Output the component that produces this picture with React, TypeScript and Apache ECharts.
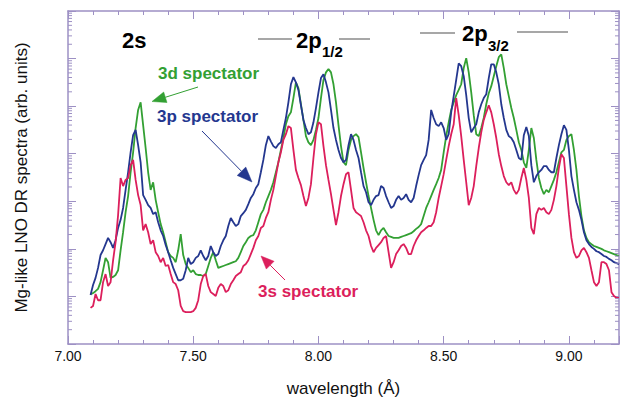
import { useEffect, useRef } from "react";
import * as echarts from "echarts";

// log10 of intensity (arb. units), sampled every 0.01 Å from 7.09 Å to 9.20 Å
const spectator3dLog = [
  1.05, 1.07, 1.11, 1.16, 1.30, 1.55, 1.81, 1.72, 1.39, 1.41,
  1.45, 1.55, 1.97, 2.35, 2.77, 3.11, 3.61, 4.03, 4.54, 4.92,
  5.08, 4.60, 4.12, 3.61, 3.24, 3.40, 3.03, 2.77, 2.52, 2.35,
  2.14, 1.93, 1.85, 1.81, 1.72, 1.97, 2.31, 1.87, 1.68, 1.60,
  1.51, 1.55, 1.47, 1.45, 1.45, 1.43, 1.47, 1.64, 1.81, 1.93,
  1.76, 1.60, 1.62, 1.64, 1.66, 1.68, 1.70, 1.72, 1.74, 1.81,
  1.93, 2.06, 2.14, 2.23, 2.27, 2.29, 2.39, 2.56, 2.73, 2.82,
  2.98, 3.11, 3.24, 3.40, 3.61, 3.82, 4.08, 4.33, 4.62, 4.79,
  4.87, 5.17, 5.50, 5.38, 5.04, 4.71, 4.37, 4.24, 4.18, 4.29,
  4.50, 4.75, 5.17, 5.55, 5.71, 5.78, 5.71, 5.46, 5.08, 4.60,
  4.16, 3.82, 3.76, 4.08, 4.29, 4.37, 4.41, 4.35, 4.03, 3.70,
  3.40, 3.11, 2.86, 2.61, 2.39, 2.29, 2.39, 2.44, 2.35, 2.27,
  2.25, 2.23, 2.23, 2.23, 2.25, 2.27, 2.29, 2.31, 2.33, 2.37,
  2.42, 2.46, 2.52, 2.69, 2.86, 2.98, 3.11, 3.24, 3.36, 3.49,
  3.66, 4.03, 4.37, 4.66, 4.92, 5.08, 5.23, 5.34, 5.46, 5.80,
  6.01, 5.71, 5.29, 4.81, 4.41, 4.37, 4.54, 4.75, 5.04, 5.27,
  5.42, 5.63, 5.84, 6.03, 6.09, 5.80, 5.46, 5.21, 4.96, 4.75,
  4.50, 4.24, 4.08, 3.82, 3.70, 4.08, 4.54, 4.33, 3.87, 3.49,
  3.28, 3.15, 3.24, 3.19, 3.32, 3.45, 3.61, 3.82, 4.03, 4.08,
  4.29, 4.37, 4.41, 4.08, 3.66, 3.11, 2.69, 2.39, 2.23, 2.14,
  2.10, 2.06, 2.04, 2.02, 2.00, 1.97, 1.95, 1.93, 1.91, 1.89,
  1.87, 1.85,
];

const spectator3pLog = [
  1.03, 1.24, 1.39, 1.60, 1.87, 1.97, 2.10, 2.23, 2.14, 2.02,
  2.18, 2.44, 2.61, 2.86, 3.24, 3.61, 4.03, 4.39, 4.50, 4.18,
  3.82, 3.13, 3.03, 2.92, 2.86, 2.73, 2.77, 2.56, 2.39, 2.27,
  2.08, 1.93, 1.76, 1.60, 1.47, 1.34, 1.34, 1.37, 1.55, 1.81,
  1.68, 1.72, 1.81, 1.85, 1.97, 1.85, 1.76, 1.85, 2.06, 1.93,
  1.85, 1.89, 2.06, 2.18, 2.27, 2.48, 2.65, 2.56, 2.48, 2.52,
  2.69, 2.75, 2.82, 2.94, 3.07, 3.15, 3.28, 3.36, 3.61, 3.87,
  4.18, 4.37, 4.26, 4.16, 4.12, 4.20, 4.24, 4.50, 4.75, 5.08,
  5.46, 5.61, 5.50, 5.34, 5.02, 4.71, 4.54, 4.41, 4.45, 4.66,
  4.96, 5.29, 5.59, 5.67, 5.50, 5.29, 4.92, 4.54, 4.29, 4.08,
  3.91, 3.82, 3.87, 4.18, 4.41, 4.29, 4.08, 3.91, 3.61, 3.32,
  3.19, 2.98, 2.92, 3.03, 3.11, 3.13, 3.32, 3.28, 3.11, 2.98,
  2.86, 2.90, 3.03, 3.11, 3.03, 3.07, 3.15, 3.03, 2.98, 3.07,
  3.32, 3.55, 3.76, 3.87, 3.97, 4.29, 4.92, 4.75, 4.62, 4.58,
  4.66, 4.54, 4.29, 4.41, 4.87, 5.21, 5.55, 5.90, 5.84, 5.63,
  5.23, 4.75, 4.45, 4.54, 4.62, 4.87, 5.04, 5.17, 5.25, 5.59,
  5.88, 5.88, 5.71, 5.46, 5.04, 4.75, 4.50, 4.37, 4.33, 4.24,
  4.08, 3.91, 3.87, 4.39, 4.56, 4.37, 3.76, 3.40, 3.53, 3.61,
  3.66, 3.74, 3.74, 3.66, 3.61, 3.61, 3.91, 4.18, 4.41, 4.60,
  4.50, 4.08, 3.53, 3.24, 2.98, 2.82, 2.61, 2.35, 2.18, 2.10,
  2.04, 2.00, 1.95, 1.93, 1.89, 1.85, 1.83, 1.79, 1.76, 1.72,
  1.70, 1.68,
];

const spectator3sLog = [
  0.76, 0.80, 1.05, 0.92, 0.92, 1.30, 1.47, 1.22, 1.30, 1.76,
  2.14, 2.71, 3.49, 3.32, 3.45, 3.49, 3.76, 3.87, 3.45, 3.13,
  2.92, 2.39, 2.52, 2.35, 2.10, 2.18, 1.93, 1.85, 1.72, 1.81,
  1.64, 1.66, 1.47, 1.30, 1.26, 1.13, 0.80, 0.69, 0.67, 0.67,
  0.67, 0.69, 0.76, 0.92, 1.26, 1.43, 1.47, 1.22, 1.09, 1.05,
  1.01, 1.18, 1.26, 1.22, 1.09, 1.13, 1.26, 1.34, 1.43, 1.47,
  1.51, 1.64, 1.68, 1.76, 1.89, 2.02, 2.18, 2.27, 2.44, 2.48,
  2.65, 2.77, 3.03, 3.24, 3.53, 3.82, 4.03, 4.29, 4.41, 4.58,
  4.54, 4.08, 3.66, 3.49, 3.34, 3.11, 2.90, 3.07, 3.36, 3.91,
  4.41, 4.66, 4.62, 4.16, 3.76, 3.45, 3.15, 2.82, 2.50, 2.77,
  3.11, 3.36, 3.57, 3.61, 3.24, 2.86, 2.77, 2.73, 2.69, 2.56,
  2.39, 2.27, 2.06, 1.93, 2.02, 2.08, 2.14, 2.23, 2.27, 1.93,
  1.60, 1.72, 1.89, 1.97, 2.06, 2.10, 2.02, 1.89, 1.89, 2.06,
  2.18, 2.27, 2.35, 2.39, 2.44, 2.48, 2.48, 2.56, 2.77, 3.07,
  3.32, 3.57, 3.87, 4.16, 4.41, 4.62, 5.17, 4.81, 4.37, 3.87,
  3.40, 2.92, 3.07, 3.32, 3.74, 4.12, 4.45, 4.71, 4.87, 5.02,
  4.87, 4.62, 4.33, 3.99, 3.74, 3.53, 3.40, 3.34, 3.40, 3.24,
  3.15, 3.24, 3.49, 3.70, 3.45, 3.07, 2.44, 2.31, 2.73, 2.86,
  2.82, 2.86, 2.77, 2.73, 2.82, 3.03, 3.32, 3.70, 3.99, 3.91,
  3.32, 2.73, 2.23, 1.93, 1.81, 1.85, 1.97, 2.02, 1.93, 1.81,
  1.55, 1.30, 1.22, 1.30, 1.72, 1.72, 1.68, 1.55, 1.09, 1.01,
  0.97, 0.97,
];

const SAMPLE_START = 7.09;
const SAMPLE_STEP = 0.01;
const wavelengths = spectator3dLog.map((_, i) => +(SAMPLE_START + i * SAMPLE_STEP).toFixed(2));

const X_MIN = 7.0;
const X_MAX = 9.2;
const X_INTERVAL = 0.5;
const Y_MIN = 1;
const Y_MAX = 1e7;
const decades = [0, 1, 2, 3, 4, 5, 6];
const minorMultipliers = [2, 3, 4, 5, 6, 7, 8, 9];
const yMinorTicks = decades.flatMap((d) => minorMultipliers.map((m) => m * Math.pow(10, d)));

const GREEN = "#33a033";
const BLUE = "#24378f";
const RED = "#dc1f5c";
const AXIS = "#9d90c4";
const GREY = "#8a8a8a";
const FONT = '"Liberation Sans", Arial, Helvetica, sans-serif';

const toSeries = (logs: number[]) => logs.map((e, i) => [wavelengths[i], Math.pow(10, e)]);

function arrow(tail: number[], tip: number[], color: string, len: number, half: number) {
  const dx = tip[0] - tail[0];
  const dy = tip[1] - tail[1];
  const L = Math.hypot(dx, dy);
  const ux = dx / L;
  const uy = dy / L;
  const bx = tip[0] - ux * len;
  const by = tip[1] - uy * len;
  const px = -uy;
  const py = ux;
  return [
    { type: "line", z: 10, shape: { x1: tail[0], y1: tail[1], x2: bx, y2: by }, style: { stroke: color, lineWidth: 1 } },
    {
      type: "polygon",
      z: 10,
      shape: { points: [[tip[0], tip[1]], [bx + px * half, by + py * half], [bx - px * half, by - py * half]] },
      style: { fill: color, stroke: color, lineWidth: 0.5 },
    },
  ];
}

function txt(text: string, x: number, y: number, color: string, size: number, bold = true) {
  return {
    type: "text",
    x,
    y,
    z: 10,
    style: {
      text,
      fill: color,
      font: `${bold ? "bold " : ""}${size}px ${FONT}`,
      align: "left",
      textAlign: "left",
      verticalAlign: "middle",
      textVerticalAlign: "middle",
    },
  };
}

function hline(x1: number, x2: number, y: number) {
  return { type: "line", z: 10, shape: { x1, y1: y, x2, y2: y }, style: { stroke: GREY, lineWidth: 1.5 } };
}

export default function App() {
  const ref = useRef<HTMLDivElement>(null);
  useEffect(() => {
    if (!ref.current) return;
    const chart = echarts.init(ref.current, undefined, { renderer: "svg" });
    const axisLine = { show: true, lineStyle: { color: AXIS, width: 1.5 } };
    const xCommon = {
      type: "value",
      min: X_MIN,
      max: X_MAX,
      interval: X_INTERVAL,
      axisLine,
      axisTick: { show: true, inside: true, length: 8, lineStyle: { color: AXIS, width: 1 } },
      minorTick: { show: true, splitNumber: 5, length: 4, lineStyle: { color: AXIS, width: 1 } },
      splitLine: { show: false },
      minorSplitLine: { show: false },
    };
    const yCommon = {
      type: "log",
      logBase: 10,
      min: Y_MIN,
      max: Y_MAX,
      splitNumber: 7,
      axisLine,
      axisTick: { show: true, inside: true, length: 8, lineStyle: { color: AXIS, width: 1 } },
      axisLabel: { show: false },
      splitLine: { show: false },
    };
    const option = {
      animation: false,
      backgroundColor: "#ffffff",
      grid: { left: 68, right: 1, top: 11, bottom: 59, containLabel: false },
      xAxis: [
        {
          ...xCommon,
          position: "bottom",
          name: "wavelength (Å)",
          nameLocation: "middle",
          nameGap: 36,
          nameTextStyle: { fontSize: 17, color: "#111", fontFamily: FONT },
          axisLabel: {
            fontSize: 14,
            color: "#111",
            margin: 5,
            fontFamily: FONT,
            showMaxLabel: false,
            formatter: (v: number) => v.toFixed(2),
          },
        },
        { ...xCommon, position: "top", axisLabel: { show: false } },
      ],
      yAxis: [
        {
          ...yCommon,
          position: "left",
          name: "Mg-like LNO DR spectra (arb. units)",
          nameLocation: "middle",
          nameGap: 38,
          nameTextStyle: { fontSize: 17, color: "#111", fontFamily: FONT },
        },
        { ...yCommon, position: "right" },
      ],
      series: [
        {
          type: "line",
          name: "3d spectator",
          data: toSeries(spectator3dLog),
          showSymbol: false,
          symbol: "none",
          lineStyle: { color: GREEN, width: 1.8 },
          itemStyle: { color: GREEN },
          z: 2,
        },
        {
          type: "line",
          name: "3p spectator",
          data: toSeries(spectator3pLog),
          showSymbol: false,
          symbol: "none",
          lineStyle: { color: BLUE, width: 1.8 },
          itemStyle: { color: BLUE },
          z: 3,
        },
        {
          type: "line",
          name: "3s spectator",
          data: toSeries(spectator3sLog),
          showSymbol: false,
          symbol: "none",
          lineStyle: { color: RED, width: 1.8 },
          itemStyle: { color: RED },
          z: 4,
        },
        {
          type: "custom",
          name: "minor log ticks",
          silent: true,
          clip: false,
          data: yMinorTicks.map((v) => [X_MIN, v]),
          renderItem: (_params: any, api: any) => {
            const v = api.value(1);
            const pl = api.coord([X_MIN, v]);
            const pr = api.coord([X_MAX, v]);
            const st = { stroke: AXIS, lineWidth: 1 };
            return {
              type: "group",
              children: [
                { type: "line", shape: { x1: pl[0], y1: pl[1], x2: pl[0] + 4, y2: pl[1] }, style: st },
                { type: "line", shape: { x1: pr[0] - 4, y1: pr[1], x2: pr[0], y2: pr[1] }, style: st },
              ],
            };
          },
          z: 5,
        },
      ],
      graphic: [
        txt("2s", 122, 40, "#000", 22),
        hline(258, 292, 39),
        txt("2p", 296, 40, "#000", 22),
        txt("1/2", 322, 51, "#000", 15),
        hline(339, 370, 39),
        hline(420, 455, 33),
        txt("2p", 462, 33, "#000", 22),
        txt("3/2", 488, 45, "#000", 15),
        hline(517, 568, 32),
        txt("3d spectator", 158, 73, GREEN, 17),
        txt("3p spectator", 157, 116, BLUE, 17),
        txt("3s spectator", 258, 291, RED, 17),
        ...arrow([198, 87], [152, 101.5], GREEN, 14, 5.5),
        ...arrow([202, 131], [252, 182], BLUE, 15, 6),
        ...arrow([285, 280], [261, 256], RED, 13, 5.5),
      ],
    };
    chart.setOption(option as any);
    return () => chart.dispose();
  }, []);
  return (
    <div
      ref={ref}
      style={{ position: "fixed", left: 0, top: 0, width: 620, height: 403, background: "#fff" }}
    />
  );
}
